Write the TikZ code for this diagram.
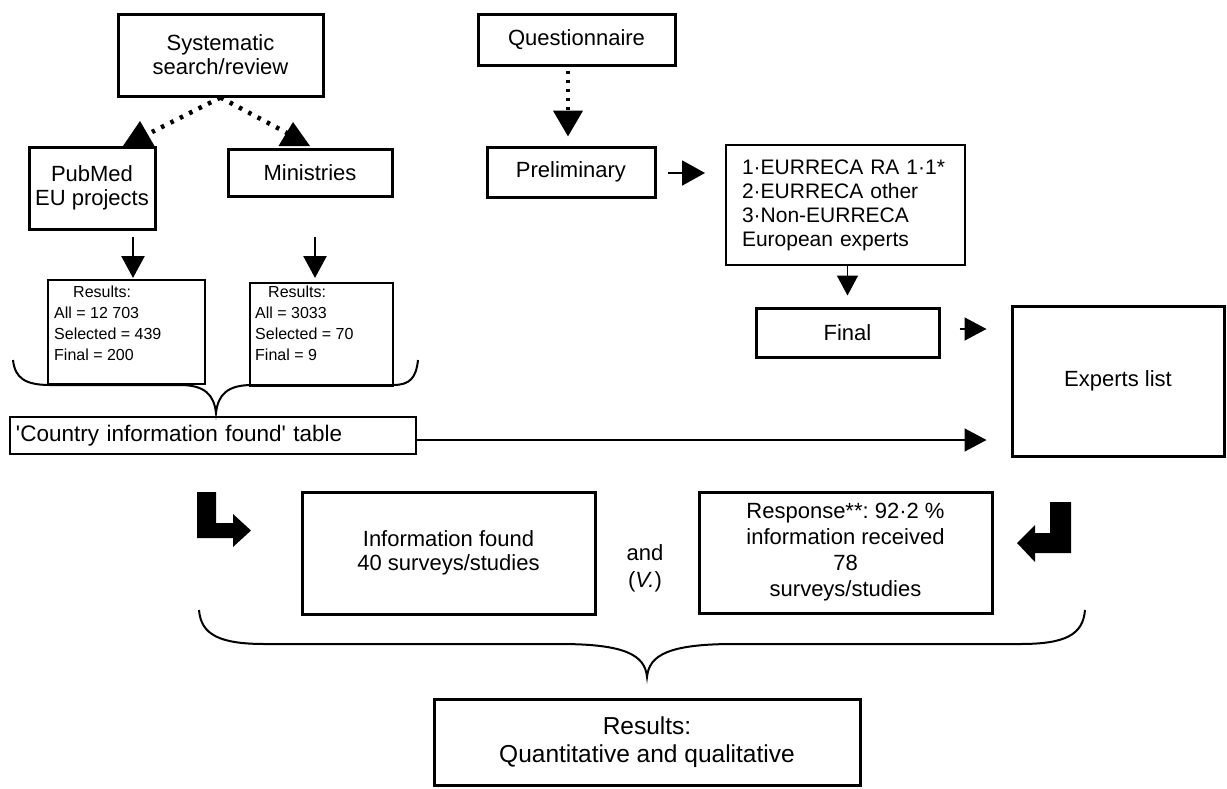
\documentclass[tikz,border=0pt]{standalone}
\usepackage{fontspec}
\setmainfont{Liberation Sans}
\usetikzlibrary{arrows.meta,calc}
\frenchspacing
\begin{document}
\begin{tikzpicture}[x=1pt,y=-1pt,
  boxthick/.style={draw, line width=3pt, inner sep=0pt, align=center, font=\fontsize{22}{24}\selectfont},
  boxmed/.style={draw, line width=2pt, inner sep=0pt},
  boxthin/.style={draw, line width=1.2pt, inner sep=0pt},
  smalltxt/.style={inner sep=0pt, align=left, font=\fontsize{16}{21}\selectfont},
  arrw/.style={line width=2.5pt, -{Triangle[width=23pt,length=22pt]}},
  arrthin/.style={line width=1.6pt, -{Triangle[width=23pt,length=22pt]}},
  dotln/.style={line width=4.5pt, dash pattern=on 3.5pt off 5.5pt},
  dotdiag/.style={line width=4.5pt, dash pattern=on 3.5pt off 7pt}
]
\useasboundingbox (0,0) rectangle (1227,788);

% top-left branch
\node[boxthick, minimum width=205pt, minimum height=82pt] (sys) at (220.5,55) {Systematic\\search/review};
\node[boxthick, minimum width=126pt, minimum height=82pt] (pub) at (92,188) {PubMed\\EU projects};
\node[boxthick, minimum width=164pt, minimum height=47pt] (min) at (310,172.5) {Ministries};

\coordinate (d1) at (152,132);
\coordinate (d2) at (287,133);
\draw[dotdiag] (sys.south) -- (d1);
\draw[dotdiag] (sys.south) -- (d2);
\fill (140,121) -- (154.5,146) -- (123,146) -- cycle;
\fill (293,122) -- (310,146) -- (278.5,146) -- cycle;

\node[boxmed, minimum width=157pt, minimum height=104pt] (res1) at (126.5,332) {};
\node[smalltxt, anchor=north west] (res1t) at ($(res1.north west)+(7,7)$) {\hspace*{19pt}Results:\\All = 12 703\\Selected = 439\\Final = 200};
\node[boxmed, minimum width=143pt, minimum height=103pt] (res2) at (321.5,334.5) {};
\node[smalltxt, anchor=north west] (res2t) at ($(res2.north west)+(6,4)$) {\hspace*{13pt}Results:\\All = 3033\\Selected = 70\\Final = 9};

\draw[arrw] ($(pub.south)+(41,6)$) -- ($(res1.north)+(6.5,-1)$);
\draw[arrw] ($(min.south)+(5,39)$) -- ($(res2.north)+(-6.5,-4)$);

% brace under results
\draw[line width=2pt] (13,360) .. controls (15,378) and (25,385) .. (50,385) -- (180,385)
  .. controls (205,385) and (214,395) .. (216,413)
  .. controls (218,395) and (227,385) .. (252,385) -- (393,385)
  .. controls (410,385) and (416,378) .. (418,360);

\node[boxthin, minimum width=406pt, minimum height=37pt, text width=394pt, align=left, inner xsep=6pt, font=\fontsize{22.5}{25}\selectfont] (country) at (213,435.5) {\textquotesingle Country information found\textquotesingle{} table};

% top-right branch
\node[boxthick, minimum width=197pt, minimum height=51pt] (ques) at (576.5,39.5) {Questionnaire};
\node[boxthick, minimum width=168pt, minimum height=50pt] (prel) at (571,172) {Preliminary};
\node[boxmed, minimum width=239pt, minimum height=120pt, text width=239pt, align=left, inner xsep=0pt, font=\fontsize{21}{24}\selectfont] (list) at (845.5,205) {\hspace*{16pt}1·EURRECA RA 1·1*\\\hspace*{16pt}2·EURRECA other\\\hspace*{16pt}3·Non-EURRECA\\\hspace*{16pt}European experts};
\node[boxthick, minimum width=183pt, minimum height=49pt] (final) at (847.5,332.5) {Final};
\node[boxthick, minimum width=212pt, minimum height=150pt] (experts) at (1118,381) {Experts list};

\draw[dotln, -{Triangle[width=29pt,length=26pt]}] ($(ques.south)+(-8.5,4)$) -- ($(prel.north)+(-3,-9)$);
\coordinate (pl) at ($(list.west)+(-20,-32)$);
\draw[line width=2pt, -{Triangle[width=25pt,length=23pt]}] ($(prel.east)+(11,1)$) -- (pl);
\draw[line width=1.6pt, -{Triangle[width=21pt,length=20pt]}] (list.south -| final.north) -- ($(final.north)+(0,-11)$);
\draw[arrthin] ($(final.east)+(19,-3.5)$) -- ($(experts.west)+(-24,-52)$);
\draw[arrthin] ($(country.east)+(0,4.5)$) -- ($(experts.west)+(-24,59)$);

% bottom
\node[boxthick, minimum width=293pt, minimum height=122pt] (info) at (448.5,553) {Information found\\40 surveys/studies};
\node[inner sep=0pt, align=center, font=\fontsize{22}{27}\selectfont] (and) at (645,568) {and\\(\textit{V.})};
\node[boxthick, minimum width=293pt, minimum height=121pt, font=\fontsize{22}{26}\selectfont] (resp) at (845.5,552.5) {Response**: 92·2 \%\\information received\\78\\surveys/studies};

% bent arrows
\fill (197,492) -- (216,492) -- (216,523) -- (233,523) -- (233,514) -- (251,530.5) -- (233,547) -- (233,538) -- (197,538) -- cycle;
\fill (1050,502) -- (1071,502) -- (1071,553) -- (1035,553) -- (1035,562) -- (1017,543) -- (1035,525) -- (1035,533) -- (1050,533) -- cycle;

% bottom brace
\draw[line width=2pt] (199,610) .. controls (201,635) and (220,644) .. (265,644) -- (560,644)
  .. controls (625,644) and (645,655) .. (647,677)
  .. controls (649,655) and (669,644) .. (734,644) -- (1020,644)
  .. controls (1065,644) and (1083,635) .. (1085,610);

\node[boxthick, minimum width=426pt, minimum height=86pt, font=\fontsize{24.5}{28}\selectfont] (resfin) at (647,742) {Results:\\Quantitative and qualitative};
\end{tikzpicture}
\end{document}
